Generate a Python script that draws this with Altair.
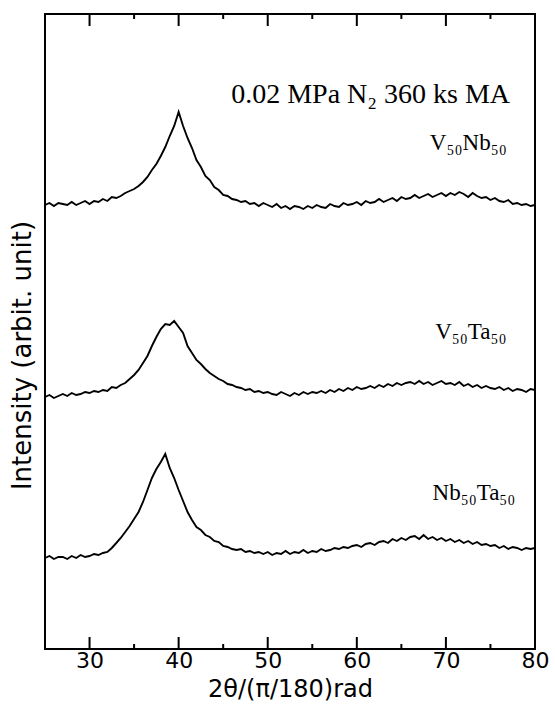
import altair as alt
import pandas as pd

# 2-theta sampling grid (degrees), 0.5 deg step from 25 to 80
two_theta = [25 + 0.5 * i for i in range(111)]

v50nb50 = [444, 446, 443, 446, 445, 444, 447, 444, 446, 448,
           445, 448, 447, 450, 448, 452, 451, 453, 456, 458,
           460, 463, 467, 472, 479, 485, 493, 502, 513, 523,
           537, 523, 511, 501, 489, 482, 473, 469, 462, 459,
           454, 453, 450, 449, 447, 448, 445, 446, 443, 446,
           444, 442, 445, 441, 443, 440, 443, 442, 440, 443,
           441, 444, 442, 441, 445, 443, 442, 446, 444, 445,
           447, 444, 448, 446, 447, 450, 447, 449, 451, 448,
           452, 450, 451, 454, 451, 453, 455, 452, 454, 456,
           453, 456, 454, 457, 455, 452, 456, 453, 451, 452,
           449, 451, 448, 447, 449, 445, 446, 444, 445, 443,
           444]

v50ta50 = [252, 254, 251, 253, 255, 253, 256, 254, 255, 257,
           256, 258, 257, 259, 258, 262, 261, 264, 266, 270,
           274, 279, 286, 293, 303, 312, 320, 325, 324, 328,
           322, 316, 303, 296, 289, 285, 280, 276, 273, 270,
           268, 265, 264, 262, 261, 259, 260, 257, 258, 256,
           257, 255, 254, 257, 255, 253, 256, 254, 257, 255,
           257, 256, 258, 256, 259, 257, 260, 258, 261, 259,
           262, 260, 261, 263, 261, 264, 262, 265, 263, 266,
           264, 266, 267, 265, 268, 265, 267, 264, 266, 268,
           265, 266, 264, 267, 263, 265, 262, 264, 261, 263,
           261, 260, 262, 259, 261, 258, 260, 259, 257, 260,
           259]

nb50ta50 = [91, 93, 90, 92, 92, 90, 93, 91, 94, 92,
            93, 95, 94, 96, 97, 101, 106, 111, 117, 123,
            130, 137, 147, 159, 171, 180, 187, 195, 181, 171,
            159, 148, 137, 129, 122, 119, 114, 112, 108, 107,
            103, 102, 100, 99, 100, 97, 98, 96, 97, 95,
            97, 94, 96, 95, 98, 95, 97, 96, 99, 96,
            98, 97, 100, 98, 99, 101, 100, 102, 101, 103,
            104, 102, 105, 106, 104, 107, 108, 106, 110, 108,
            111, 109, 112, 113, 110, 114, 110, 112, 109, 111,
            108, 110, 107, 109, 106, 108, 105, 107, 104, 105,
            103, 104, 101, 103, 100, 102, 101, 99, 101, 100,
            101]

series_names = ["V50Nb50", "V50Ta50", "Nb50Ta50"]
major_ticks = [30, 40, 50, 60, 70, 80]
minor_ticks = [35, 45, 55, 65, 75]

label_text = ["0.02 MPa N₂ 360 ks MA", "V₅₀Nb₅₀", "V₅₀Ta₅₀", "Nb₅₀Ta₅₀"]
label_x = [45.9, 68.2, 68.8, 68.5]
label_y = [546, 499, 310, 149]
label_size = [28, 23, 23, 23]

W, H = 490, 635
Y_TOP = 635
MAJOR_LEN, MINOR_LEN = 12, 5

rows = []
for name, vals in zip(series_names, [v50nb50, v50ta50, nb50ta50]):
    for xv, yv in zip(two_theta, vals):
        rows.append({"x": xv, "y": yv, "grp": name})
df = pd.DataFrame(rows)

tick_rows = []
for vals, length in [(major_ticks, MAJOR_LEN), (minor_ticks, MINOR_LEN)]:
    for t in vals:
        tick_rows.append({"tx": t, "ya": 0, "yb": length})
        tick_rows.append({"tx": t, "ya": Y_TOP - length, "yb": Y_TOP})
tick_df = pd.DataFrame(tick_rows)

xscale = alt.Scale(domain=[25, 80], nice=False)
yscale = alt.Scale(domain=[0, Y_TOP], nice=False, zero=False)

lines = alt.Chart(df).mark_line(color="black", strokeWidth=1.9).encode(
    x=alt.X("x:Q", scale=xscale,
            axis=alt.Axis(values=major_ticks, title="2θ/(π/180)rad",
                          labelFont="DejaVu Sans", labelFontSize=22, labelColor="black",
                          labelPadding=1, labelFontWeight="normal",
                          titleFont="DejaVu Sans", titleFontSize=24, titleColor="black",
                          titleFontWeight="normal", titleBaseline="alphabetic", titleY=47,
                          ticks=False, domain=False, grid=False, labelFlush=False)),
    y=alt.Y("y:Q", scale=yscale,
            axis=alt.Axis(labels=False, ticks=False, domain=False, grid=False,
                          title="Intensity (arbit. unit)", titleFont="DejaVu Sans",
                          titleFontSize=26, titleColor="black", titleFontWeight="normal",
                          titleAngle=270, titleX=-23, titleY=341,
                          titleAlign="center", titleBaseline="middle")),
    detail="grp:N",
)

# inward tick marks on the bottom and top frame
ticks = alt.Chart(tick_df).mark_rule(color="black", strokeWidth=2).encode(
    x=alt.X("tx:Q", scale=xscale),
    y=alt.Y("ya:Q", scale=yscale),
    y2="yb:Q",
)

lab_df = pd.DataFrame({"x": label_x, "y": label_y, "t": label_text, "s": label_size})
labels = alt.Chart(lab_df).mark_text(
    align="left", baseline="alphabetic", font="Liberation Serif", color="black"
).encode(
    x=alt.X("x:Q", scale=xscale),
    y=alt.Y("y:Q", scale=yscale),
    text="t:N",
    size=alt.Size("s:Q", scale=None, legend=None),
)

chart = alt.layer(lines, ticks, labels).properties(
    width=W, height=H,
    autosize=alt.AutoSizeParams(type="none"),
    padding={"left": 45, "top": 14, "right": 20, "bottom": 64},
    background="white",
).configure_view(stroke="black", strokeWidth=2)

chart.save("out.html", embed_options={"renderer": "svg", "actions": False})
